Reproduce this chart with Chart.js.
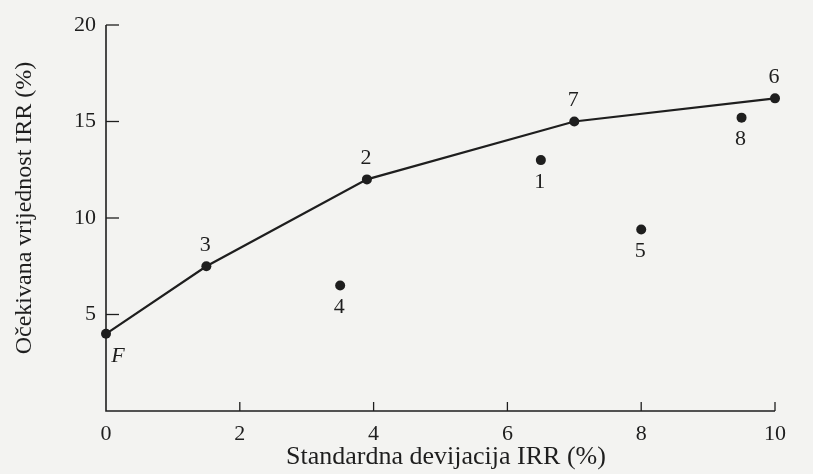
<!DOCTYPE html>
<html>
<head>
<meta charset="utf-8">
<script src="https://cdn.jsdelivr.net/npm/chart.js@4.4.0/dist/chart.umd.min.js"></script>
<style>
    html, body { margin: 0; padding: 0; background: #f3f3f1; }
    #wrap { width: 813px; height: 474px; position: relative; }
</style>
</head>
<body>
<div id="wrap"><canvas id="irrChart"></canvas></div>
<script>
/* podaci ocitani sa slike */
var frontierX      = [0, 1.5, 3.9, 7, 10];
var frontierY      = [4, 7.5, 12, 15, 16.2];
var frontierLabels = ['F', '3', '2', '7', '6'];

var otherX      = [3.5, 6.5, 8, 9.5];
var otherY      = [6.5, 13, 9.4, 15.2];
var otherLabels = ['4', '1', '5', '8'];

var xTicks = [0, 2, 4, 6, 8, 10];
var yTicks = [5, 10, 15, 20];

var xTitle = 'Standardna devijacija IRR (%)';
var yTitle = 'Očekivana vrijednost IRR (%)';

var SERIF = '"Liberation Serif", "DejaVu Serif", serif';
var INK   = '#1e1e1e';

function toPoints(xs, ys) {
    return xs.map(function (x, i) { return { x: x, y: ys[i] }; });
}

/* ── osi, crtice, oznake tocaka i naslovi ── */
var sketchPlugin = {
    id: 'sketch',
    afterDraw: function (chart) {
        var ctx = chart.ctx;
        var xs = chart.scales.x, ys = chart.scales.y;
        var L = xs.left, R = xs.right, T = ys.top, B = ys.bottom;

        ctx.save();
        ctx.strokeStyle = INK;
        ctx.lineWidth = 1.6;
        ctx.beginPath();
        ctx.moveTo(L, T);
        ctx.lineTo(L, B);
        ctx.lineTo(R, B);
        ctx.stroke();

        // crtice prema unutra
        ctx.lineWidth = 1.3;
        yTicks.forEach(function (v) {
            var py = ys.getPixelForValue(v);
            ctx.beginPath();
            ctx.moveTo(L, py);
            ctx.lineTo(L + 13, py);
            ctx.stroke();
        });
        xTicks.forEach(function (v) {
            if (v === 0) return;
            var px = xs.getPixelForValue(v);
            ctx.beginPath();
            ctx.moveTo(px, B);
            ctx.lineTo(px, B - 9);
            ctx.stroke();
        });

        // oznake tocaka
        ctx.fillStyle = INK;
        ctx.textAlign = 'center';
        ctx.textBaseline = 'middle';
        ctx.font = '22px ' + SERIF;
        frontierLabels.forEach(function (lab, i) {
            var px = xs.getPixelForValue(frontierX[i]);
            var py = ys.getPixelForValue(frontierY[i]);
            if (lab === 'F') {
                ctx.font = 'italic 22px ' + SERIF;
                ctx.fillText(lab, px + 12, py + 22);
                ctx.font = '22px ' + SERIF;
            } else {
                ctx.fillText(lab, px - 1, py - 21);
            }
        });
        otherLabels.forEach(function (lab, i) {
            var px = xs.getPixelForValue(otherX[i]);
            var py = ys.getPixelForValue(otherY[i]);
            ctx.fillText(lab, px - 1, py + 22);
        });

        // naslovi osi
        ctx.font = '26px ' + SERIF;
        ctx.fillText(xTitle, 446, 457);
        ctx.translate(25, 208);
        ctx.rotate(-Math.PI / 2);
        ctx.font = '24px ' + SERIF;
        ctx.fillText(yTitle, 0, 0);
        ctx.restore();
    }
};

document.addEventListener('DOMContentLoaded', function () {
    var canvas = document.getElementById('irrChart');

    new Chart(canvas, {
        type: 'scatter',
        data: {
            datasets: [
                {
                    label: 'granica',
                    data: toPoints(frontierX, frontierY),
                    showLine: true,
                    borderColor: INK,
                    borderWidth: 2.2,
                    backgroundColor: INK,
                    pointRadius: 5,
                    pointBorderWidth: 0,
                    tension: 0,
                    clip: false
                },
                {
                    label: 'ostali',
                    data: toPoints(otherX, otherY),
                    showLine: false,
                    backgroundColor: INK,
                    borderColor: INK,
                    pointRadius: 5,
                    pointBorderWidth: 0,
                    clip: false
                }
            ]
        },
        options: {
            responsive: true,
            maintainAspectRatio: false,
            animation: false,
            events: [],
            layout: { padding: { top: 25, right: 38, left: 0, bottom: 0 } },
            plugins: {
                legend: { display: false },
                tooltip: { enabled: false }
            },
            scales: {
                x: {
                    type: 'linear',
                    min: 0, max: 10,
                    grid: { display: false, drawTicks: false },
                    border: { display: false },
                    ticks: {
                        stepSize: 2,
                        padding: 10,
                        color: INK,
                        font: { family: SERIF, size: 22 }
                    },
                    afterFit: function (s) { s.height = 63; }
                },
                y: {
                    type: 'linear',
                    min: 0, max: 20,
                    grid: { display: false, drawTicks: false },
                    border: { display: false },
                    ticks: {
                        stepSize: 5,
                        padding: 10,
                        color: INK,
                        font: { family: SERIF, size: 22 },
                        callback: function (v) { return v === 0 ? '' : v; }
                    },
                    afterFit: function (s) { s.width = 106; }
                }
            }
        },
        plugins: [sketchPlugin]
    });
});
</script>
</body>
</html>
